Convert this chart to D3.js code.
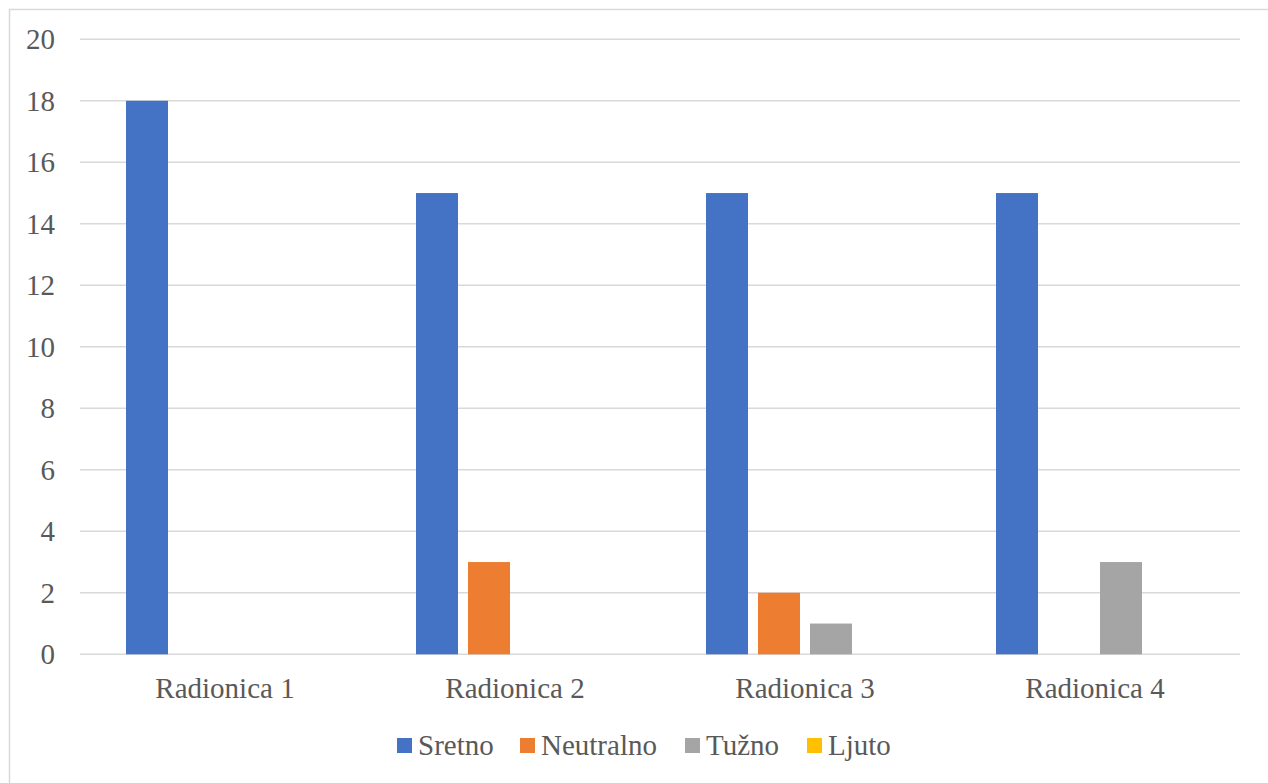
<!DOCTYPE html>
<html><head><meta charset="utf-8"><script src="https://cdn.jsdelivr.net/npm/d3@7"></script></head>
<body style="margin:0">
<svg id="s" width="1268" height="783"></svg>
<script>
const categories = ["Radionica 1", "Radionica 2", "Radionica 3", "Radionica 4"];
const seriesNames = ["Sretno", "Neutralno", "Tužno", "Ljuto"];
const sretno = [18, 15, 15, 15];
const neutralno = [0, 3, 2, 0];
const tuzno = [0, 0, 1, 3];
const ljuto = [0, 0, 0, 0];
const yTicks = [0, 2, 4, 6, 8, 10, 12, 14, 16, 18, 20];
const colors = ["#4472C4", "#ED7D31", "#A5A5A5", "#FFC000"];

const seriesValues = [sretno, neutralno, tuzno, ljuto];
const svg = d3.select("#s");
const textColor = "#595959";

// outer border
svg.append("rect").attr("x", 9.5).attr("y", 9.5).attr("width", 1300).attr("height", 800)
  .attr("fill", "none").attr("stroke", "#d9d9d9").attr("stroke-width", 1.5);

const plot = { left: 80, right: 1240, top: 39.3, bottom: 654.3 };
const x = d3.scaleBand().domain(categories).range([plot.left, plot.right]).padding(0);
const xs = d3.scaleBand().domain(seriesNames).range([46, 244]).paddingInner(10 / 52).paddingOuter(0);
const y = d3.scaleLinear().domain([0, 20]).range([plot.bottom, plot.top]);

// gridlines
svg.append("g").selectAll("line").data(yTicks).join("line")
  .attr("x1", plot.left).attr("x2", plot.right)
  .attr("y1", d => y(d)).attr("y2", d => y(d))
  .attr("stroke", "#d9d9d9").attr("stroke-width", 1.6);

// bars
const groups = svg.append("g").selectAll("g").data(categories).join("g")
  .attr("transform", d => `translate(${x(d)},0)`);
groups.selectAll("rect").data((c, i) => seriesNames.map((s, j) => ({ s, j, v: seriesValues[j][i] })))
  .join("rect")
  .attr("x", d => xs(d.s)).attr("width", xs.bandwidth())
  .attr("y", d => y(d.v)).attr("height", d => y(0) - y(d.v))
  .attr("fill", d => colors[d.j]);

// y tick labels
svg.selectAll("text.yt").data(yTicks).join("text")
  .attr("class", "yt")
  .attr("x", 55).attr("y", d => y(d) + 10)
  .attr("text-anchor", "end")
  .style("font-family", d => `"Liberation Serif"`).style("font-size", "29px")
  .attr("fill", textColor)
  .text(d => d);

// x labels
svg.selectAll("text.xl").data(categories).join("text")
  .attr("class", "xl")
  .attr("x", d => x(d) + x.bandwidth() / 2).attr("y", 698)
  .attr("text-anchor", "middle")
  .style("font-family", d => `"Tinos"`).style("font-size", "29px")
  .attr("fill", textColor)
  .text(d => d);

// legend
const legendX = [397, 520, 685, 807];
svg.selectAll("rect.lg").data(seriesNames).join("rect")
  .attr("class", "lg")
  .attr("x", (d, i) => legendX[i]).attr("y", 738).attr("width", 15).attr("height", 15)
  .attr("fill", (d, i) => colors[i]);
svg.selectAll("text.lt").data(seriesNames).join("text")
  .attr("class", "lt")
  .attr("x", (d, i) => legendX[i] + 21).attr("y", 755)
  .style("font-family", d => `"Times New Roman"`).style("font-size", "29px")
  .attr("fill", textColor)
  .text(d => d);
</script>
</body></html>
